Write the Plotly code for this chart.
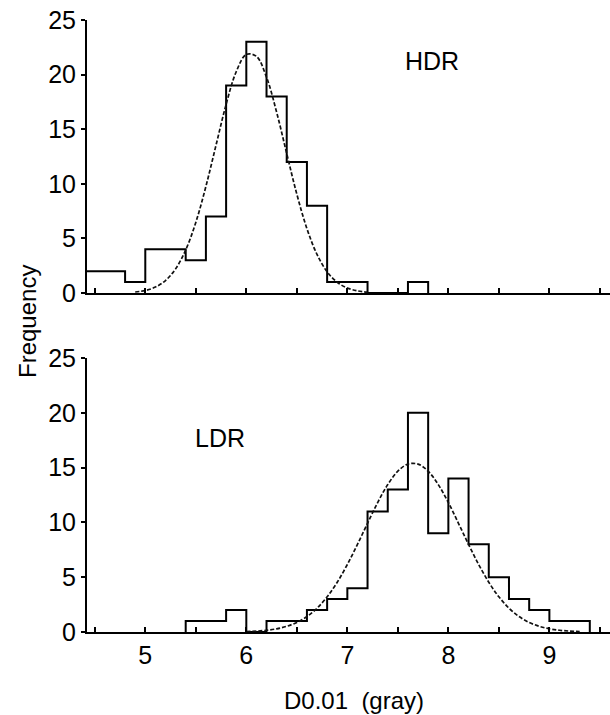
import plotly.graph_objects as go

# ---- data ----
bin_width = 0.2
hdr_start = 4.4
hdr_counts = [2, 2, 1, 4, 4, 3, 7, 19, 23, 18, 12, 8, 1, 1, 0, 0, 1]
ldr_start = 5.4
ldr_counts = [1, 1, 2, 0, 1, 1, 2, 3, 4, 11, 13, 20, 9, 14, 8, 5, 3, 2, 1, 1]

hdr_fit_x = [4.9, 5.0, 5.1, 5.2, 5.3, 5.4, 5.5, 5.6, 5.7, 5.8, 5.9, 6.0, 6.1, 6.2,
             6.3, 6.4, 6.5, 6.6, 6.7, 6.8, 6.9, 7.0, 7.1, 7.2]
hdr_fit_y = [0.09, 0.23, 0.54, 1.14, 2.21, 3.94, 6.46, 9.76, 13.53, 17.27, 20.26,
             21.85, 21.67, 19.76, 16.56, 12.77, 9.05, 5.89, 3.53, 1.94, 0.98, 0.46,
             0.20, 0.08]
ldr_fit_x = [6.0, 6.1, 6.2, 6.3, 6.4, 6.5, 6.6, 6.7, 6.8, 6.9, 7.0, 7.1, 7.2, 7.3,
             7.4, 7.5, 7.6, 7.7, 7.8, 7.9, 8.0, 8.1, 8.2, 8.3, 8.4, 8.5, 8.6, 8.7,
             8.8, 8.9, 9.0, 9.1, 9.2, 9.3]
ldr_fit_y = [0.04, 0.08, 0.16, 0.29, 0.52, 0.87, 1.41, 2.17, 3.21, 4.54, 6.16, 7.99,
             9.92, 11.81, 13.45, 14.67, 15.32, 15.32, 14.67, 13.45, 11.81, 9.92, 7.99,
             6.16, 4.54, 3.21, 2.17, 1.41, 0.87, 0.52, 0.29, 0.16, 0.08, 0.04]

x_ticks = [5, 6, 7, 8, 9]
x_minor = [4.5, 5.5, 6.5, 7.5, 8.5, 9.5]
y_ticks = [0, 5, 10, 15, 20, 25]
x_range = [4.423, 9.60]
y_range = [0, 25]


def step_xy(start, counts):
    xs = [start + i * bin_width for i in range(len(counts) + 1)]
    ys = list(counts) + [counts[-1]]
    xs = [xs[0]] + xs + [xs[-1]]
    ys = [0] + ys + [0]
    return xs, ys


fig = go.Figure()

hx, hy = step_xy(hdr_start, hdr_counts)
lx, ly = step_xy(ldr_start, ldr_counts)

hist_line = dict(shape="hv", color="black", width=2)
fit_line = dict(shape="spline", color="#111111", width=1.7, dash="4px,2px")

fig.add_trace(go.Scatter(x=hx, y=hy, mode="lines", line=hist_line,
                         xaxis="x", yaxis="y", showlegend=False, hoverinfo="skip"))
fig.add_trace(go.Scatter(x=hdr_fit_x, y=hdr_fit_y, mode="lines", line=fit_line,
                         xaxis="x", yaxis="y", showlegend=False, hoverinfo="skip"))
fig.add_trace(go.Scatter(x=lx, y=ly, mode="lines", line=hist_line,
                         xaxis="x2", yaxis="y2", showlegend=False, hoverinfo="skip"))
fig.add_trace(go.Scatter(x=ldr_fit_x, y=ldr_fit_y, mode="lines", line=fit_line,
                         xaxis="x2", yaxis="y2", showlegend=False, hoverinfo="skip"))

font_family = "Liberation Sans, Arial, sans-serif"

xaxis_common = dict(
    range=x_range, automargin=False, showgrid=False, zeroline=False, showline=True,
    linecolor="black", linewidth=2, ticks="inside", ticklen=5, tickwidth=1.5,
    tickcolor="black", tickvals=x_ticks, ticktext=[str(v) for v in x_ticks],
    minor=dict(tickvals=x_minor, ticks="inside", ticklen=5, tickwidth=1.5,
               tickcolor="black"),
    tickfont=dict(family=font_family, size=25, color="black"),
    ticklabeloverflow="allow",
)
yaxis_common = dict(
    range=y_range, automargin=False, showgrid=False, zeroline=False, showline=True,
    linecolor="black", linewidth=2, ticks="outside", ticklen=4, tickwidth=1.5,
    tickcolor="black", tickvals=y_ticks,
    tickfont=dict(family=font_family, size=25, color="black"),
    ticklabeloverflow="allow",
)

# figure fills the whole window (page body margin removed below)
W, H = 610, 715
L = 87
T = 20
B = H - 632
PW, PH = W - L, H - T - B


def px(xp):
    return (xp - L) / PW


def py(yp):
    return (H - B - yp) / PH


fig.update_layout(
    width=W, height=H, autosize=False,
    margin=dict(l=L, r=0, t=T, b=B, autoexpand=False),
    paper_bgcolor="white", plot_bgcolor="white",
    xaxis=dict(domain=[0, 1], anchor="y", showticklabels=False, **xaxis_common),
    yaxis=dict(domain=[py(293), 1], anchor="x", **yaxis_common),
    xaxis2=dict(domain=[0, 1], anchor="y2", showticklabels=True, **xaxis_common),
    yaxis2=dict(domain=[0, py(358)], anchor="x2", **yaxis_common),
    annotations=[
        dict(text="HDR", x=px(432), y=py(61), xref="paper", yref="paper",
             showarrow=False, xanchor="center", yanchor="middle",
             font=dict(family=font_family, size=25, color="black")),
        dict(text="LDR", x=px(220), y=py(438), xref="paper", yref="paper",
             showarrow=False, xanchor="center", yanchor="middle",
             font=dict(family=font_family, size=25, color="black")),
        dict(text="Frequency", x=px(27), y=py(322), xref="paper", yref="paper",
             showarrow=False, textangle=-90, xanchor="center", yanchor="middle",
             font=dict(family=font_family, size=24, color="black")),
        dict(text="D0.01  (gray)", x=px(354), y=py(700), xref="paper", yref="paper",
             showarrow=False, xanchor="center", yanchor="middle",
             font=dict(family=font_family, size=24, color="black")),
    ],
)

fig.write_html(
    "out.html",
    config={"displayModeBar": False},
    post_script="document.body.style.margin='0';document.body.style.overflow='hidden';",
)
